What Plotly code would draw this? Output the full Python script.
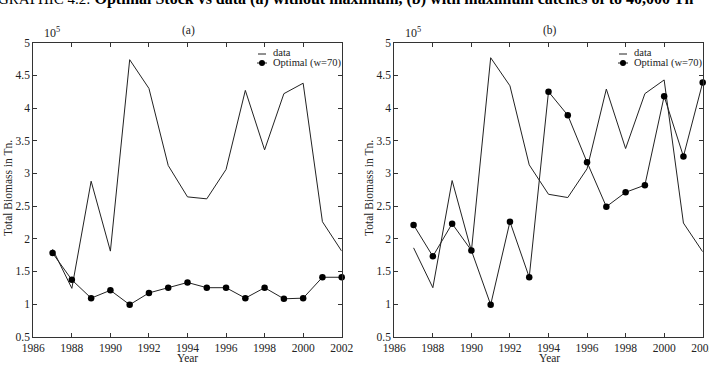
import plotly.graph_objects as go

years = list(range(1987, 2003))
data_a = [1.84, 1.24, 2.88, 1.81, 4.74, 4.30, 3.12, 2.64, 2.61, 3.06, 4.27, 3.36, 4.22, 4.38, 2.26, 1.81]
optimal_a = [1.78, 1.37, 1.09, 1.21, 0.99, 1.17, 1.25, 1.33, 1.25, 1.25, 1.09, 1.25, 1.08, 1.09, 1.41, 1.41]
data_b = [1.86, 1.25, 2.89, 1.81, 4.77, 4.34, 3.13, 2.68, 2.63, 3.07, 4.29, 3.38, 4.22, 4.43, 2.24, 1.80]
optimal_b = [2.21, 1.73, 2.23, 1.82, 0.99, 2.26, 1.41, 4.25, 3.89, 3.17, 2.49, 2.71, 2.82, 4.18, 3.26, 4.39]

x_ticks = list(range(1986, 2003, 2))
y_ticks = [0.5, 1, 1.5, 2, 2.5, 3, 3.5, 4, 4.5, 5]
y_tick_labels = ["0.5", "1", "1.5", "2", "2.5", "3", "3.5", "4", "4.5", "5"]

W, H = 709, 365
FONT = "Liberation Serif"
INK = "#222222"

def px(x):
    return x / W

def py(y):
    return 1 - y / H

fig = go.Figure()

panels = [("x", "y", data_a, optimal_a), ("x2", "y2", data_b, optimal_b)]
for xa, ya, d, o in panels:
    fig.add_trace(go.Scatter(x=years, y=d, mode="lines", xaxis=xa, yaxis=ya, cliponaxis=False,
                             line=dict(color=INK, width=1), showlegend=False))
    fig.add_trace(go.Scatter(x=years, y=o, mode="lines+markers", xaxis=xa, yaxis=ya, cliponaxis=False,
                             line=dict(color=INK, width=1),
                             marker=dict(color="black", size=6.5), showlegend=False))

ax_common = dict(showgrid=False, zeroline=False, showline=True, linecolor="#333333",
                 linewidth=1.2, mirror="ticks", ticks="inside", ticklen=4, automargin=False,
                 ticklabeloverflow="allow",
                 tickcolor="#333333", tickfont=dict(family=FONT, size=11.5, color="#222"))

left_dom = [px(33.3), px(341.7)]
right_dom = [px(394.3), px(702.7)]
y_dom = [py(336.7), py(42.7)]

fig.update_layout(
    template="none",
    width=W, height=H, margin=dict(l=0, r=0, t=0, b=0, autoexpand=False),
    paper_bgcolor="white", plot_bgcolor="white",
    xaxis=dict(domain=left_dom, range=[1986, 2002], tickvals=x_ticks, anchor="y", **ax_common),
    yaxis=dict(domain=y_dom, range=[0.5, 5], tickvals=y_ticks, ticktext=y_tick_labels, anchor="x", **ax_common),
    xaxis2=dict(domain=right_dom, range=[1986, 2002], tickvals=x_ticks, anchor="y2", **ax_common),
    yaxis2=dict(domain=y_dom, range=[0.5, 5], tickvals=y_ticks, ticktext=y_tick_labels, anchor="x2", **ax_common),
)

ann = []
shapes = []
# title (partially cut off at top)
ann.append(dict(xref="paper", yref="paper", x=px(-4), y=py(-1), xanchor="left", yanchor="middle",
                showarrow=False,
                text="<span style='font-size:15px'>GRAPHIC 4.2:</span> <b>Optimal Stock vs data (a) without maximum, (b) with maximum catches of to 40,000 Tn</b>",
                font=dict(family=FONT, size=16, color="black")))

for off, lab in [(0, "(a)"), (361, "(b)")]:
    ann.append(dict(xref="paper", yref="paper", x=px(189 + off), y=py(31), xanchor="center", yanchor="middle",
                    showarrow=False, text=lab, font=dict(family=FONT, size=11.5, color="#222")))
    ann.append(dict(xref="paper", yref="paper", x=px(42 + off), y=py(33), xanchor="left", yanchor="middle",
                    showarrow=False, text="10<sup>5</sup>", font=dict(family=FONT, size=12, color="#222")))
    ann.append(dict(xref="paper", yref="paper", x=px(188 + off), y=py(358), xanchor="center", yanchor="middle",
                    showarrow=False, text="Year", font=dict(family=FONT, size=11.5, color="#222")))
    ann.append(dict(xref="paper", yref="paper", x=px(8 + off), y=py(188), xanchor="center", yanchor="middle",
                    showarrow=False, text="Total Biomass in Tn.", textangle=-90,
                    font=dict(family=FONT, size=11.5, color="#222")))
    # legend
    ann.append(dict(xref="paper", yref="paper", x=px(270.5 + off), y=py(53), xanchor="left", yanchor="middle",
                    showarrow=False, text="data", font=dict(family=FONT, size=10.5, color="#222")))
    ann.append(dict(xref="paper", yref="paper", x=px(270.5 + off), y=py(63), xanchor="left", yanchor="middle",
                    showarrow=False, text="Optimal (w=70)", font=dict(family=FONT, size=10.5, color="#222")))
    shapes.append(dict(type="line", xref="paper", yref="paper", x0=px(258 + off), x1=px(266 + off),
                       y0=py(54), y1=py(54), line=dict(color=INK, width=1)))
    shapes.append(dict(type="line", xref="paper", yref="paper", x0=px(257 + off), x1=px(267 + off),
                       y0=py(63), y1=py(63), line=dict(color=INK, width=1)))
    shapes.append(dict(type="circle", xref="paper", yref="paper", x0=px(259 + off), x1=px(265 + off),
                       y0=py(66), y1=py(60), fillcolor="black", line=dict(color="black", width=0)))

fig.update_layout(annotations=ann, shapes=shapes)
fig.write_html("out.html")
